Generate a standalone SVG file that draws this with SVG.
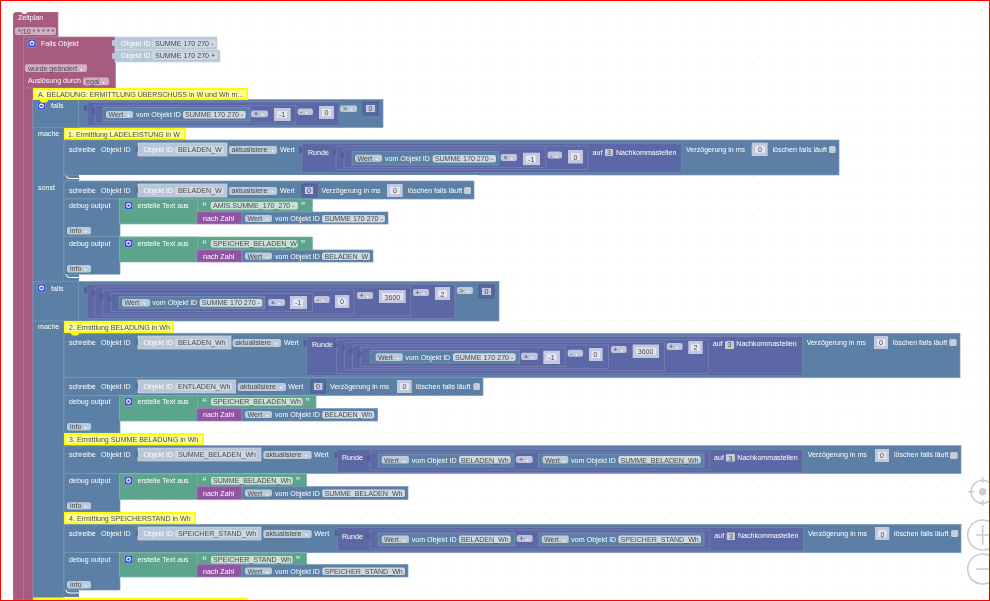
<svg xmlns="http://www.w3.org/2000/svg" xmlns:xlink="http://www.w3.org/1999/xlink" width="990" height="601" viewBox="0 0 990 601">
<style>
text{font-family:"Liberation Sans","DejaVu Sans",Arial,sans-serif;font-size:7.1px;fill:#fff}
.k,.k text{fill:#4a4a4a}
.a{font-size:4px;fill:#fff}
.r{fill:#a55b80;stroke:#b77c99;stroke-width:.7}
.b{fill:#5b80a5;stroke:#7c99b7;stroke-width:.7}
.p{fill:#5b67a5;stroke:#7c85b7;stroke-width:.7}
.g{fill:#5ba58c;stroke:#7cb7a3;stroke-width:.7}
.m{fill:#8f55a3;stroke:#a87cb7;stroke-width:.7}
.l{fill:#b8c7d7;stroke:#cdd8e3;stroke-width:.7}
.f{fill:#cdd8e3}
.fg{fill:#c9dfd7}
.dd{fill:#bfc3dc}
.db{fill:#bccbda}
.dr{fill:#d3aec1}
.n{fill:#c4c7e0}
.nf{fill:#e4e5f0}
.nd{fill:#5b67a5;stroke:#47518a;stroke-width:.7}
.nq{fill:#c4c7e0}
.y{fill:#fdfd9c;stroke:#ffff00;stroke-width:2}
.yt{fill:#ffff00}
.c{fill:#c6cdd6}
.q{font-size:10px;font-weight:bold;fill:#cfe5dd}
.o{fill:#3f4fc6;stroke:#8f9ae0;stroke-width:.7}
.z{fill:#fff;stroke:#ccc;stroke-width:1.6}
.zl{fill:none;stroke:#ccc;stroke-width:1.6}
.tp{fill:#525d98}
.tn{fill:#54769a}
.tl{fill:#b8c7d7}
</style>
<defs>
<pattern id="grid" width="12.65" height="12.65" patternUnits="userSpaceOnUse" y="6"><rect x="0" y="0" width="1" height="1" fill="#dcdcdc"/></pattern>
<g id="gear"><rect class="o" x="-4" y="-4" width="8" height="8" rx="1.5"/><circle r="1.9" fill="none" stroke="#fff" stroke-width="1.1"/></g>
<rect id="tab" x="-3" y="-3" width="3" height="6" rx="1"/>
<filter id="soft" x="0" y="0" width="100%" height="100%"><feGaussianBlur stdDeviation="0.3"/></filter>
</defs>
<rect width="990" height="601" fill="#fff"/>
<rect width="990" height="601" fill="url(#grid)"/>

<g filter="url(#soft)">
<g id="zoom-controls">
<circle class="z" cx="982.7" cy="491.7" r="11.500"/><circle cx="982.7" cy="491.7" r="3.800" fill="#ccc"/>
<path class="zl" d="M968 491.700h6M982.700 477v6M982.700 500v6"/>
<circle class="z" cx="982.700" cy="535" r="15"/><path class="zl" d="M976 535h13M982.700 525v20"/>
<circle class="z" cx="982.700" cy="569" r="15"/><path class="zl" d="M976 569h13"/>
</g>

<g id="connectors"></g>

<g id="zeitplan">
<path class="r" d="M13 16q0-4 4-4h4l2 2h3l2-2h30v25h-25v563h-20z"/>
<path d="M23.500 37V600" stroke="#b77c99" stroke-width=".7"/>
<text x="18" y="20">Zeitplan</text>
<rect class="dr" x="15" y="27.300" width="41" height="7.700" rx="2"/>
<text class="k" x="18" y="33.500">*/10 * * * * *</text>
</g>

<g id="falls-objekt">
<rect class="r" x="23.500" y="37" width="92" height="51"/>
<use xlink:href="#gear" x="32" y="43.300"/>
<text x="41" y="46">Falls Objekt</text>
<rect class="l" x="115" y="37" width="102" height="12.500"/><use xlink:href="#tab" class="tl" x="115" y="43"/>
<text x="121" y="46">Objekt ID</text>
<rect class="f" x="152" y="39.500" width="64" height="8" rx="2"/><text class="k" x="155" y="46">SUMME 170 270 -</text>
<rect class="l" x="115" y="50" width="105" height="12"/><use xlink:href="#tab" class="tl" x="115" y="56"/>
<text x="121" y="58">Objekt ID</text>
<rect class="f" x="152" y="51.700" width="66" height="8" rx="2"/><text class="k" x="155" y="58">SUMME 170 270 +</text>
<rect class="dr" x="25" y="64.200" width="62" height="7.800" rx="2"/><text class="k" x="28" y="70.500">wurde geändert<tspan class="a" dx="3">▾</tspan></text>
<text x="28" y="83">Auslösung durch</text>
<rect class="dr" x="83" y="77.500" width="26" height="7.800" rx="2"/><text class="k" x="86" y="83.500">egal<tspan class="a" dx="3">▾</tspan></text>
</g>

<g id="column-a">
<rect class="b" x="33" y="99.500" width="31" height="498"/>
<rect x="64" y="127" width="15" height="470" fill="#5b80a5"/>
</g>

<g id="if-1">
<rect class="b" x="33" y="99.500" width="350" height="28"/>
<path d="M78.500 100v27" stroke="#7c99b7" stroke-width=".8"/>
<use xlink:href="#gear" x="41.500" y="106"/>
<text x="51" y="108">falls</text>
<text x="38" y="136">mache</text>
<text x="38" y="190">sonst</text>
<rect class="p" x="87" y="102" width="252" height="23.500"/><use xlink:href="#tab" class="tp" x="87" y="108"/>
<rect class="p" x="95" y="105.300" width="201" height="17.700"/><use xlink:href="#tab" class="tp" x="95" y="111"/>
<rect class="b" x="103" y="107.600" width="147" height="13.400"/><use xlink:href="#tab" class="tn" x="103" y="114"/>
<rect class="db" x="106" y="111" width="27" height="7" rx="2"/><text class="k" x="108.500" y="117">Wert<tspan class="a" dx="4">▾</tspan></text>
<text x="136" y="117">vom Objekt ID</text>
<rect class="f" x="183" y="111" width="62.700" height="7.500" rx="2"/><text class="k" x="185" y="117">SUMME 170 270 -</text>
<rect class="dd" x="251" y="110.500" width="17" height="6.700" rx="2"/><text class="k" x="254" y="116">×<tspan class="a" dx="3">▾</tspan></text>
<rect class="n" x="274" y="108" width="16.700" height="13"/><rect class="nf" x="277" y="111" width="10" height="7"/><text class="k" x="279" y="117">-1</text>
<rect class="dd" x="297.700" y="108.500" width="15.300" height="6.500" rx="2"/><text class="k" x="300" y="114">-<tspan class="a" dx="3">▾</tspan></text>
<rect class="n" x="319" y="106" width="15" height="13"/><rect class="nf" x="322" y="109" width="9" height="7"/><text class="k" x="324.500" y="115">0</text>
<rect class="db" x="340" y="105.500" width="17" height="6.500" rx="2"/><text class="k" x="343" y="111">&gt;<tspan class="a" dx="3">▾</tspan></text>
<rect class="nd" x="363" y="102" width="15" height="13"/><rect class="nq" x="366" y="105" width="9" height="7"/><text class="k" x="368.500" y="111">0</text>
</g>

<g id="comment-1">
<rect class="y" x="65" y="129" width="120" height="10"/><ellipse class="yt" cx="75" cy="141" rx="4" ry="2"/>
<text class="k" x="68" y="137">1. Ermittlung LADELEISTUNG in W</text>
</g>

<g id="comment-a">
<rect class="y" x="34" y="89" width="213" height="10"/><ellipse class="yt" cx="44" cy="100.500" rx="4" ry="2"/>
<text class="k" x="38" y="96.500">A. BELADUNG: ERMITTLUNG ÜBERSCHUSS in W und Wh m...</text>
</g>

<g id="write-ladeleistung">
<rect class="b" x="64" y="140" width="775" height="35"/>
<text x="69" y="152">schreibe</text><text x="101" y="152">Objekt ID</text>
<rect class="l" x="138" y="143" width="89" height="13"/><use xlink:href="#tab" class="tn" x="138" y="149"/>
<text x="143.500" y="152">Objekt ID</text>
<rect class="f" x="175" y="146" width="49" height="7.500" rx="2"/><text class="k" x="178" y="152">BELADEN_W</text>
<rect class="db" x="229" y="146" width="48" height="8" rx="2"/><text class="k" x="231.500" y="152">aktualisiere<tspan class="a" dx="4">▾</tspan></text>
<text x="280" y="152">Wert</text>
<rect class="p" x="302" y="143.500" width="379.700" height="29"/><use xlink:href="#tab" class="tp" x="302" y="150"/>
<text x="308" y="155">Runde</text>
<rect class="p" x="336" y="146" width="252" height="23.500"/><use xlink:href="#tab" class="tp" x="336" y="152"/>
<rect class="p" x="344" y="149" width="202" height="18.700"/><use xlink:href="#tab" class="tp" x="344" y="155"/>
<rect class="b" x="352" y="151.700" width="147" height="13.300"/><use xlink:href="#tab" class="tn" x="352" y="158"/>
<rect class="db" x="355" y="154.700" width="27" height="7" rx="2"/><text class="k" x="357.500" y="161">Wert<tspan class="a" dx="4">▾</tspan></text>
<text x="385" y="161">vom Objekt ID</text>
<rect class="f" x="432.700" y="155" width="63.300" height="7.500" rx="2"/><text class="k" x="434.700" y="161">SUMME 170 270 -</text>
<rect class="dd" x="500.700" y="154" width="16.300" height="7" rx="2"/><text class="k" x="503.500" y="160">×<tspan class="a" dx="3">▾</tspan></text>
<rect class="n" x="523" y="152.700" width="17" height="12.500"/><rect class="nf" x="526" y="155.500" width="10" height="7"/><text class="k" x="528" y="161.500">-1</text>
<rect class="dd" x="547.700" y="151.500" width="14.300" height="7" rx="2"/><text class="k" x="550" y="157.500">-<tspan class="a" dx="3">▾</tspan></text>
<rect class="n" x="568" y="150" width="15" height="13.500"/><rect class="nf" x="571" y="153" width="9" height="7"/><text class="k" x="573.500" y="159.500">0</text>
<text x="592.500" y="155">auf</text><rect class="c" x="605" y="149" width="8" height="7" rx="1"/><text class="k" x="607" y="155">3</text>
<text x="616" y="155">Nachkommastellen</text>
<text x="686" y="152">Verzögerung in ms</text>
<rect class="n" x="751.700" y="142.700" width="16" height="13.300"/><rect class="nf" x="755" y="146" width="10" height="7"/><text class="k" x="758" y="152">0</text>
<text x="772.500" y="152">löschen falls läuft</text>
<rect class="c" x="829" y="146" width="6.700" height="7" rx="1.500"/>
</g>

<g id="write-beladen-w">
<rect x="79" y="175" width="400" height="6" fill="#fff"/>
<rect class="b" x="64" y="181" width="410" height="18"/>
<text x="69" y="193">schreibe</text><text x="101" y="193">Objekt ID</text>
<rect class="l" x="138" y="184" width="89" height="13"/><use xlink:href="#tab" class="tn" x="138" y="190"/>
<text x="143.500" y="193">Objekt ID</text>
<rect class="f" x="175" y="187" width="49" height="7.500" rx="2"/><text class="k" x="178" y="193">BELADEN_W</text>
<rect class="db" x="229" y="187" width="48" height="8" rx="2"/><text class="k" x="231.500" y="193">aktualisiere<tspan class="a" dx="4">▾</tspan></text>
<text x="280" y="193">Wert</text>
<rect class="nd" x="302" y="184" width="15" height="13"/><rect class="nq" x="305" y="187" width="8" height="7"/><text class="k" x="307" y="193">0</text>
<text x="321.500" y="193">Verzögerung in ms</text>
<rect class="n" x="387" y="184" width="15.700" height="13"/><rect class="nf" x="390" y="187" width="10" height="7"/><text class="k" x="393" y="193">0</text>
<text x="407.700" y="193">löschen falls läuft</text>
<rect class="c" x="464" y="187" width="7" height="7" rx="1.500"/>
</g>

<g id="debug-1">
<rect class="b" x="64" y="199" width="56" height="37.500"/>
<text x="69" y="208">debug output</text>
<rect class="db" x="67" y="227" width="24" height="7.500" rx="2"/><text class="k" x="70" y="233">info<tspan class="a" dx="3">▾</tspan></text>
<rect class="g" x="119.500" y="199" width="193" height="13"/><rect class="g" x="119.500" y="199" width="78" height="25"/>
<use xlink:href="#gear" x="128.500" y="205.500"/>
<text x="137.500" y="208">erstelle Text aus</text>
<text class="q" x="202" y="210">“</text><rect class="fg" x="210.700" y="202" width="87.300" height="7.500" rx="2"/><text class="k" x="213" y="208">AMIS.SUMME_170_270 -</text><text class="q" x="300.500" y="210">”</text>
<rect class="m" x="197" y="212" width="45" height="12"/><text x="203" y="221">nach Zahl</text>
<rect class="b" x="242" y="212" width="146" height="12"/>
<rect class="db" x="245" y="215" width="27" height="7" rx="2"/><text class="k" x="247.500" y="221">Wert<tspan class="a" dx="4">▾</tspan></text>
<text x="275" y="221">vom Objekt ID</text>
<rect class="f" x="322" y="215" width="63" height="7.500" rx="2"/><text class="k" x="324.500" y="221">SUMME 170 270 -</text>
</g>

<g id="debug-2">
<rect class="b" x="64" y="236.500" width="56" height="38"/>
<text x="69" y="246">debug output</text>
<rect class="db" x="67" y="265" width="24" height="7.500" rx="2"/><text class="k" x="70" y="271">info<tspan class="a" dx="3">▾</tspan></text>
<rect class="g" x="119.500" y="237" width="193" height="13"/><rect class="g" x="119.500" y="237" width="78" height="25"/>
<use xlink:href="#gear" x="128.500" y="243.300"/>
<text x="137.500" y="246">erstelle Text aus</text>
<text class="q" x="202" y="248">“</text><rect class="fg" x="210.700" y="240" width="87" height="7.500" rx="2"/><text class="k" x="213" y="246">SPEICHER_BELADEN_W</text><text class="q" x="300.500" y="248">”</text>
<rect class="m" x="197" y="250" width="45" height="12"/><text x="203" y="258.500">nach Zahl</text>
<rect class="b" x="242" y="250" width="131" height="12"/>
<rect class="db" x="245" y="252.500" width="27" height="7" rx="2"/><text class="k" x="247.500" y="258.500">Wert<tspan class="a" dx="4">▾</tspan></text>
<text x="275" y="258.500">vom Objekt ID</text>
<rect class="f" x="322" y="252.500" width="48" height="7.500" rx="2"/><text class="k" x="324.500" y="258.500">BELADEN_W</text>
</g>

<g id="if-2">
<rect x="79" y="274.700" width="410" height="6.500" fill="#fff"/>
<path d="M66 274.500q0 3 4 3h9" fill="none" stroke="#fff" stroke-width="1"/>
<rect class="b" x="33" y="281.500" width="466" height="39.500"/>
<path d="M78.500 282v39" stroke="#7c99b7" stroke-width=".8"/>
<use xlink:href="#gear" x="41.500" y="288"/>
<text x="51" y="290.500">falls</text>
<text x="38" y="329">mache</text>
<rect class="p" x="87" y="284.300" width="368" height="34"/><use xlink:href="#tab" class="tp" x="87" y="290"/>
<rect class="p" x="95" y="287" width="315.700" height="29"/><use xlink:href="#tab" class="tp" x="95" y="293"/>
<rect class="p" x="103" y="290" width="251" height="24"/><use xlink:href="#tab" class="tp" x="103" y="296"/>
<rect class="p" x="111" y="293.300" width="201.700" height="18.400"/><use xlink:href="#tab" class="tp" x="111" y="299"/>
<rect class="b" x="119" y="296.300" width="145.700" height="12"/><use xlink:href="#tab" class="tn" x="119" y="302"/>
<rect class="db" x="122" y="299" width="28" height="7.500" rx="2"/><text class="k" x="124.500" y="305.300">Wert<tspan class="a" dx="4">▾</tspan></text>
<text x="152.300" y="305.300">vom Objekt ID</text>
<rect class="f" x="199.700" y="299" width="62.600" height="7.700" rx="2"/><text class="k" x="201.700" y="305.300">SUMME 170 270 -</text>
<rect class="dd" x="268.300" y="299" width="16.700" height="7" rx="2"/><text class="k" x="271" y="305">×<tspan class="a" dx="3">▾</tspan></text>
<rect class="n" x="290" y="296" width="17" height="13"/><rect class="nf" x="293" y="299" width="10" height="7"/><text class="k" x="295" y="305.300">-1</text>
<rect class="dd" x="314" y="296" width="15.700" height="7" rx="2"/><text class="k" x="316.500" y="302">-<tspan class="a" dx="3">▾</tspan></text>
<rect class="n" x="335" y="295" width="14.300" height="13"/><rect class="nf" x="338" y="298" width="8.500" height="7"/><text class="k" x="340" y="304.300">0</text>
<rect class="dd" x="357" y="292" width="16" height="7" rx="2"/><text class="k" x="359.500" y="298">+<tspan class="a" dx="3">▾</tspan></text>
<rect class="n" x="379" y="290" width="26.700" height="13"/><rect class="nf" x="382" y="293" width="21" height="7"/><text class="k" x="384.500" y="299.500">3600</text>
<rect class="dd" x="413" y="289" width="16" height="7" rx="2"/><text class="k" x="415.500" y="295">+<tspan class="a" dx="3">▾</tspan></text>
<rect class="n" x="435" y="287" width="15" height="13"/><rect class="nf" x="438" y="290" width="9" height="7"/><text class="k" x="440.500" y="296.500">2</text>
<rect class="db" x="457" y="287" width="16" height="7" rx="2"/><text class="k" x="459.500" y="293">&gt;<tspan class="a" dx="3">▾</tspan></text>
<rect class="nd" x="479" y="285" width="15" height="13"/><rect class="nq" x="482" y="288" width="9" height="7"/><text class="k" x="484.500" y="294.300">0</text>
</g>

<g id="write-beladen-wh">
<rect class="b" x="64" y="333.300" width="896" height="44.400"/>
<text x="69" y="345">schreibe</text><text x="101" y="345">Objekt ID</text>
<rect class="l" x="138" y="336" width="93" height="13"/><use xlink:href="#tab" class="tn" x="138" y="342"/>
<text x="143.500" y="345">Objekt ID</text>
<rect class="f" x="175" y="339" width="52.300" height="7.500" rx="2"/><text class="k" x="178" y="345">BELADEN_Wh</text>
<rect class="db" x="232.700" y="339" width="48.300" height="8" rx="2"/><text class="k" x="235" y="345">aktualisiere<tspan class="a" dx="4">▾</tspan></text>
<text x="284" y="345">Wert</text>
<rect class="p" x="306.700" y="336.700" width="495.600" height="39"/><use xlink:href="#tab" class="tp" x="306.700" y="343"/>
<text x="312" y="347">Runde</text>
<rect class="p" x="336.700" y="339.300" width="371.600" height="34"/><use xlink:href="#tab" class="tp" x="336.700" y="345"/>
<rect class="p" x="344.700" y="342" width="319.600" height="28.500"/><use xlink:href="#tab" class="tp" x="344.700" y="348"/>
<rect class="p" x="352.700" y="345" width="255.600" height="23.500"/><use xlink:href="#tab" class="tp" x="352.700" y="351"/>
<rect class="p" x="360.700" y="347.500" width="205" height="19"/><use xlink:href="#tab" class="tp" x="360.700" y="354"/>
<rect class="b" x="370" y="350.500" width="149.300" height="12.500"/><use xlink:href="#tab" class="tn" x="370" y="357"/>
<rect class="db" x="375.700" y="353.300" width="27" height="7.700" rx="2"/><text class="k" x="378" y="359.800">Wert<tspan class="a" dx="4">▾</tspan></text>
<text x="405.300" y="359.800">vom Objekt ID</text>
<rect class="f" x="453" y="353.300" width="62.700" height="7.700" rx="2"/><text class="k" x="455" y="359.800">SUMME 170 270 -</text>
<rect class="dd" x="521" y="352.700" width="16.700" height="7.300" rx="2"/><text class="k" x="524" y="358.500">×<tspan class="a" dx="3">▾</tspan></text>
<rect class="n" x="543.300" y="350.700" width="16.700" height="13.300"/><rect class="nf" x="546.500" y="353.500" width="10" height="7"/><text class="k" x="548.500" y="360">-1</text>
<rect class="dd" x="567.700" y="349.700" width="15.300" height="7" rx="2"/><text class="k" x="570" y="355.500">-<tspan class="a" dx="3">▾</tspan></text>
<rect class="n" x="589" y="348" width="13.700" height="13"/><rect class="nf" x="591.500" y="351" width="8.500" height="7"/><text class="k" x="593.500" y="357.300">0</text>
<rect class="dd" x="611" y="346" width="15.700" height="7" rx="2"/><text class="k" x="613.500" y="352">+<tspan class="a" dx="3">▾</tspan></text>
<rect class="n" x="632.700" y="344.500" width="26.300" height="13.500"/><rect class="nf" x="636" y="347.500" width="20" height="7"/><text class="k" x="637.700" y="353.800">3600</text>
<rect class="dd" x="666.700" y="343" width="16" height="7" rx="2"/><text class="k" x="669" y="349">+<tspan class="a" dx="3">▾</tspan></text>
<rect class="n" x="688.300" y="341" width="14.400" height="13"/><rect class="nf" x="691" y="344" width="9" height="7"/><text class="k" x="693.500" y="350.300">2</text>
<text x="712.700" y="346">auf</text><rect class="c" x="725" y="341" width="9" height="8" rx="1"/><text class="k" x="727.500" y="347">3</text>
<text x="736.300" y="346">Nachkommastellen</text>
<text x="806.700" y="345">Verzögerung in ms</text>
<rect class="n" x="874" y="336" width="14" height="13"/><rect class="nf" x="877" y="339" width="8.500" height="7"/><text class="k" x="879" y="345">0</text>
<text x="892.700" y="345">löschen falls läuft</text>
<rect class="c" x="949.300" y="339" width="7.400" height="7" rx="1.500"/>
</g>

<g id="write-entladen-wh">
<rect class="b" x="64" y="377.700" width="419" height="17.800"/>
<text x="69" y="389">schreibe</text><text x="101" y="389">Objekt ID</text>
<rect class="l" x="138" y="380" width="97.700" height="13"/><use xlink:href="#tab" class="tn" x="138" y="386"/>
<text x="143.500" y="389">Objekt ID</text>
<rect class="f" x="175" y="383" width="56.700" height="7.500" rx="2"/><text class="k" x="178" y="389">ENTLADEN_Wh</text>
<rect class="db" x="237.700" y="383" width="48.300" height="8" rx="2"/><text class="k" x="240" y="389">aktualisiere<tspan class="a" dx="4">▾</tspan></text>
<text x="288.300" y="389">Wert</text>
<rect class="nd" x="311" y="380" width="14.700" height="13"/><rect class="nq" x="314" y="383" width="8.500" height="7"/><text class="k" x="316" y="389">0</text>
<text x="330" y="389">Verzögerung in ms</text>
<rect class="n" x="397" y="380" width="14.700" height="13"/><rect class="nf" x="400" y="383" width="9" height="7"/><text class="k" x="402.500" y="389">0</text>
<text x="416" y="389">löschen falls läuft</text>
<rect class="c" x="473.300" y="383" width="6.700" height="7" rx="1.500"/>
</g>

<g id="debug-3">
<rect class="b" x="64" y="395.500" width="56" height="37.500"/>
<text x="69" y="404">debug output</text>
<rect class="db" x="67" y="423" width="24" height="7.500" rx="2"/><text class="k" x="70" y="429">info<tspan class="a" dx="3">▾</tspan></text>
<rect class="g" x="119.500" y="395.500" width="196.500" height="13"/><rect class="g" x="119.500" y="395.500" width="78" height="25.500"/>
<use xlink:href="#gear" x="128.500" y="401.500"/>
<text x="137.500" y="404">erstelle Text aus</text>
<text class="q" x="202" y="406">“</text><rect class="fg" x="211" y="398" width="91.700" height="7.500" rx="2"/><text class="k" x="213" y="404">SPEICHER_BELADEN_Wh</text><text class="q" x="305" y="406">”</text>
<rect class="m" x="197" y="408.500" width="45" height="12.500"/><text x="203" y="417">nach Zahl</text>
<rect class="b" x="242" y="408.500" width="135.700" height="12.500"/>
<rect class="db" x="245" y="411" width="27" height="7" rx="2"/><text class="k" x="247.500" y="417">Wert<tspan class="a" dx="4">▾</tspan></text>
<text x="275" y="417">vom Objekt ID</text>
<rect class="f" x="322.300" y="411" width="52" height="7.500" rx="2"/><text class="k" x="324.500" y="417">BELADEN_Wh</text>
</g>

<g id="comment-2">
<rect class="y" x="65" y="322" width="108" height="10"/><ellipse class="yt" cx="75" cy="333.500" rx="4" ry="2"/>
<text class="k" x="69" y="330">2. Ermittlung BELADUNG in Wh</text>
</g>

<g id="comment-3">
<rect class="y" x="65" y="434" width="138" height="10.500"/><ellipse class="yt" cx="75" cy="445.500" rx="4" ry="2"/>
<text class="k" x="69" y="442">3. Ermittlung SUMME BELADUNG in Wh</text>
</g>

<g id="write-summe">
<rect class="b" x="64" y="445.700" width="897" height="27.800"/>
<text x="69" y="457">schreibe</text><text x="101" y="457">Objekt ID</text>
<rect class="l" x="138" y="448" width="123" height="13"/><use xlink:href="#tab" class="tn" x="138" y="454"/>
<text x="143.500" y="457">Objekt ID</text>
<rect class="f" x="175" y="451" width="81.700" height="7.500" rx="2"/><text class="k" x="178" y="457">SUMME_BELADEN_Wh</text>
<rect class="db" x="263.300" y="451" width="48.400" height="8" rx="2"/><text class="k" x="265.500" y="457">aktualisiere<tspan class="a" dx="4">▾</tspan></text>
<text x="314" y="457">Wert</text>
<rect class="p" x="337.700" y="449.300" width="465.300" height="23"/><use xlink:href="#tab" class="tp" x="337.700" y="455"/>
<text x="342" y="460">Runde</text>
<rect class="p" x="370" y="452" width="339.300" height="18"/><use xlink:href="#tab" class="tp" x="370" y="458"/>
<rect class="b" x="378" y="454" width="136" height="13"/><use xlink:href="#tab" class="tn" x="378" y="460"/>
<rect class="db" x="381.700" y="456" width="27.300" height="7.500" rx="2"/><text class="k" x="384" y="463">Wert<tspan class="a" dx="4">▾</tspan></text>
<text x="411.700" y="463">vom Objekt ID</text>
<rect class="f" x="459" y="456" width="51.700" height="7.500" rx="2"/><text class="k" x="461" y="463">BELADEN_Wh</text>
<rect class="dd" x="516" y="456" width="16.700" height="7" rx="2"/><text class="k" x="519" y="462">+<tspan class="a" dx="3">▾</tspan></text>
<rect class="b" x="538.300" y="454" width="165.700" height="13"/><use xlink:href="#tab" class="tn" x="538.300" y="460"/>
<rect class="db" x="542.700" y="456" width="25.600" height="7.500" rx="2"/><text class="k" x="545" y="463">Wert<tspan class="a" dx="3">▾</tspan></text>
<text x="571" y="463">vom Objekt ID</text>
<rect class="f" x="618.300" y="456" width="82.400" height="7.500" rx="2"/><text class="k" x="620.500" y="463">SUMME_BELADEN_Wh</text>
<text x="714" y="459.800">auf</text><rect class="c" x="726" y="454" width="9" height="7.500" rx="1"/><text class="k" x="728.500" y="460.500">3</text>
<text x="737.300" y="459.800">Nachkommastellen</text>
<text x="807.700" y="457">Verzögerung in ms</text>
<rect class="n" x="875" y="449" width="14" height="13"/><rect class="nf" x="878" y="452" width="8.500" height="7"/><text class="k" x="880" y="458">0</text>
<text x="894" y="457">löschen falls läuft</text>
<rect class="c" x="950" y="452" width="7.700" height="7" rx="1.500"/>
</g>

<g id="debug-4">
<rect class="b" x="64" y="473.500" width="56" height="38.500"/>
<text x="69" y="483">debug output</text>
<rect class="db" x="67" y="502.300" width="24" height="7.200" rx="2"/><text class="k" x="70" y="508">info<tspan class="a" dx="3">▾</tspan></text>
<rect class="g" x="119.500" y="474" width="187.200" height="13"/><rect class="g" x="119.500" y="474" width="78" height="25.500"/>
<use xlink:href="#gear" x="128.500" y="480.500"/>
<text x="137.500" y="483">erstelle Text aus</text>
<text class="q" x="202" y="485">“</text><rect class="fg" x="211" y="477" width="81.700" height="7.500" rx="2"/><text class="k" x="213" y="483">SUMME_BELADEN_Wh</text><text class="q" x="295.500" y="485">”</text>
<rect class="m" x="197" y="486.500" width="45" height="13"/><text x="203" y="496">nach Zahl</text>
<rect class="b" x="242" y="486.500" width="166" height="13"/>
<rect class="db" x="245" y="489.500" width="27" height="7" rx="2"/><text class="k" x="247.500" y="496">Wert<tspan class="a" dx="4">▾</tspan></text>
<text x="275" y="496">vom Objekt ID</text>
<rect class="f" x="322.300" y="489.500" width="82.700" height="7.500" rx="2"/><text class="k" x="324.500" y="496">SUMME_BELADEN_Wh</text>
</g>

<g id="comment-4">
<rect class="y" x="65" y="513" width="130" height="10.500"/><ellipse class="yt" cx="75" cy="524.500" rx="4" ry="2"/>
<text class="k" x="69" y="521">4. Ermittlung SPEICHERSTAND in Wh</text>
</g>

<g id="write-speicher">
<rect class="b" x="64" y="524.400" width="897" height="28.300"/>
<text x="69" y="536">schreibe</text><text x="101" y="536">Objekt ID</text>
<rect class="l" x="138" y="527" width="123" height="13"/><use xlink:href="#tab" class="tn" x="138" y="533"/>
<text x="143.500" y="536">Objekt ID</text>
<rect class="f" x="175" y="530" width="83.300" height="7.500" rx="2"/><text class="k" x="178" y="536">SPEICHER_STAND_Wh</text>
<rect class="db" x="263.300" y="530" width="48.400" height="8" rx="2"/><text class="k" x="265.500" y="536">aktualisiere<tspan class="a" dx="4">▾</tspan></text>
<text x="314.300" y="536">Wert</text>
<rect class="p" x="337.700" y="527.300" width="465.600" height="23.700"/><use xlink:href="#tab" class="tp" x="337.700" y="533"/>
<text x="342" y="538.500">Runde</text>
<rect class="p" x="370" y="530" width="340" height="19"/><use xlink:href="#tab" class="tp" x="370" y="536"/>
<rect class="b" x="378" y="533" width="137" height="13"/><use xlink:href="#tab" class="tn" x="378" y="539"/>
<rect class="db" x="381.700" y="535.500" width="27.300" height="7.500" rx="2"/><text class="k" x="384" y="542">Wert<tspan class="a" dx="4">▾</tspan></text>
<text x="411.700" y="542">vom Objekt ID</text>
<rect class="f" x="459" y="535.500" width="51.700" height="7.500" rx="2"/><text class="k" x="461" y="542">BELADEN_Wh</text>
<rect class="dd" x="516.700" y="535" width="16" height="7" rx="2"/><text class="k" x="519.500" y="541">+<tspan class="a" dx="3">▾</tspan></text>
<rect class="b" x="539" y="533" width="165" height="13"/><use xlink:href="#tab" class="tn" x="539" y="539"/>
<rect class="db" x="541.700" y="535.500" width="27" height="7.500" rx="2"/><text class="k" x="544" y="542">Wert<tspan class="a" dx="4">▾</tspan></text>
<text x="571.300" y="542">vom Objekt ID</text>
<rect class="f" x="618.300" y="535.500" width="82.700" height="7.500" rx="2"/><text class="k" x="620.500" y="542">SPEICHER_STAND_Wh</text>
<text x="714.300" y="538">auf</text><rect class="c" x="726.700" y="532.500" width="8.300" height="7.500" rx="1"/><text class="k" x="729" y="539">3</text>
<text x="738" y="538">Nachkommastellen</text>
<text x="808" y="536">Verzögerung in ms</text>
<rect class="n" x="875" y="527" width="14.300" height="13"/><rect class="nf" x="878" y="530" width="8.500" height="7"/><text class="k" x="880.500" y="536.500">0</text>
<text x="894" y="536">löschen falls läuft</text>
<rect class="c" x="951" y="530" width="7.300" height="7" rx="1.500"/>
</g>

<g id="debug-5">
<rect class="b" x="64" y="552.700" width="56" height="37.300"/>
<text x="69" y="562">debug output</text>
<rect class="db" x="67" y="581" width="24" height="7.500" rx="2"/><text class="k" x="70" y="587">info<tspan class="a" dx="3">▾</tspan></text>
<rect class="g" x="119.500" y="553" width="187.200" height="12"/><rect class="g" x="119.500" y="553" width="78" height="24"/>
<use xlink:href="#gear" x="128.500" y="559.300"/>
<text x="137.500" y="562">erstelle Text aus</text>
<text class="q" x="202" y="564">“</text><rect class="fg" x="211" y="556" width="81.700" height="7.500" rx="2"/><text class="k" x="213" y="562">SPEICHER_STAND_Wh</text><text class="q" x="295.500" y="564">”</text>
<rect class="m" x="197" y="564.500" width="45" height="12.500"/><text x="203" y="574">nach Zahl</text>
<rect class="b" x="242" y="564.500" width="166" height="12.500"/>
<rect class="db" x="245" y="567.500" width="27" height="7" rx="2"/><text class="k" x="247.500" y="574">Wert<tspan class="a" dx="4">▾</tspan></text>
<text x="275" y="574">vom Objekt ID</text>
<rect class="f" x="322.300" y="567.500" width="82.700" height="7.500" rx="2"/><text class="k" x="324.500" y="574">SPEICHER_STAND_Wh</text>
</g>

<g id="comment-next">
<path d="M66 590q0 3 4 3h9" fill="none" stroke="#fff" stroke-width="1"/>
<rect x="33" y="597.700" width="215" height="4" fill="#ffff00"/>
</g>

<g id="if-1-corner"><path d="M66 175.500q0 3 4 3h9" fill="none" stroke="#fff" stroke-width="1"/></g>
</g>
<rect x=".5" y=".5" width="989" height="600" fill="none" stroke="#ff0000"/>
</svg>
